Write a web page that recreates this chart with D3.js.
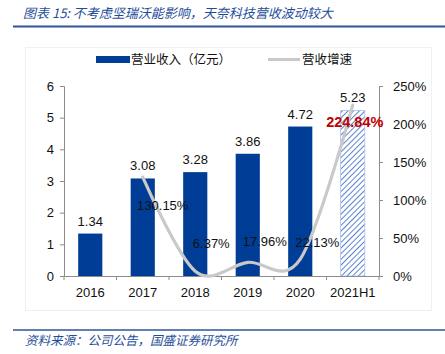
<!DOCTYPE html>
<html>
<head>
<meta charset="utf-8">
<script src="https://cdn.jsdelivr.net/npm/d3@7"></script>
<style>
  body { margin: 0; background: #fff; }
  svg { display: block; }
</style>
</head>
<body>
<svg id="chart" width="445" height="354"></svg>
<script>
// data
const categories = ['2016', '2017', '2018', '2019', '2020', '2021H1'];
const revenue = [1.34, 3.08, 3.28, 3.86, 4.72, 5.23];
const growth = [null, 130.15, 6.37, 17.96, 22.13, 224.84];
const leftTicks = [0, 1, 2, 3, 4, 5, 6];
const rightTicks = [0, 50, 100, 150, 200, 250];

const titleText = '图表 15:  不考虑坚瑞沃能影响，天奈科技营收波动较大';
const sourceText = '资料来源：公司公告，国盛证券研究所';

const svg = d3.select('#chart');
const font = '"Liberation Sans", Arial, sans-serif';
const cjk = '"Noto Sans CJK SC", sans-serif';
const blue = '#003d96';
const gray = '#c9c9c9';

// plot box
const plot = { left: 64, right: 379, top: 86, bottom: 276 };

// title + rules
svg.append('text')
  .attr('x', 23).attr('y', 18)
  .attr('font-family', cjk).attr('font-size', 13)
  .attr('font-style', 'italic')
  .attr('fill', '#1f4e99')
  .text(titleText);
svg.append('line')
  .attr('x1', 13).attr('x2', 445).attr('y1', 26.5).attr('y2', 26.5)
  .attr('stroke', '#2f5597').attr('stroke-width', 2);

svg.append('line')
  .attr('x1', 13).attr('x2', 445).attr('y1', 330).attr('y2', 330)
  .attr('stroke', '#2f5597').attr('stroke-width', 1.5);
svg.append('text')
  .attr('x', 25).attr('y', 345)
  .attr('font-family', cjk).attr('font-size', 12.5)
  .attr('font-style', 'italic')
  .attr('fill', '#1f4e99')
  .text(sourceText);

// faint chart frame
svg.append('rect')
  .attr('x', 25.5).attr('y', 47.5).attr('width', 406).attr('height', 263)
  .attr('fill', 'none').attr('stroke', '#f0f0f0');

// scales
const x = d3.scaleBand()
  .domain(categories)
  .range([plot.left, plot.right])
  .paddingInner(0.54)
  .paddingOuter(0.27);
const yL = d3.scaleLinear().domain([0, 6]).range([plot.bottom, plot.top]);
const yR = d3.scaleLinear().domain([0, 250]).range([plot.bottom, plot.top]);

// hatch pattern for the 2021H1 bar
const defs = svg.append('defs');
const pat = defs.append('pattern')
  .attr('id', 'hatch')
  .attr('patternUnits', 'userSpaceOnUse')
  .attr('width', 4).attr('height', 4)
  .attr('patternTransform', 'rotate(45)');
pat.append('rect').attr('width', 4).attr('height', 4).attr('fill', '#fff');
pat.append('line')
  .attr('x1', 0).attr('y1', 0).attr('x2', 0).attr('y2', 4)
  .attr('stroke', '#2f64c0').attr('stroke-width', 1.6);

// bars
svg.selectAll('.bar')
  .data(revenue)
  .enter()
  .append('rect')
  .attr('class', 'bar')
  .attr('x', (d, i) => x(categories[i]))
  .attr('y', d => yL(d))
  .attr('width', x.bandwidth())
  .attr('height', d => yL(0) - yL(d))
  .attr('fill', (d, i) => i === categories.length - 1 ? 'url(#hatch)' : blue)
  .attr('stroke', (d, i) => i === categories.length - 1 ? '#a9c1e8' : 'none')
  .attr('stroke-width', 0.8);

// bar value labels
svg.selectAll('.bar-label')
  .data(revenue)
  .enter()
  .append('text')
  .attr('class', 'bar-label')
  .attr('x', (d, i) => x(categories[i]) + x.bandwidth() / 2)
  .attr('y', d => yL(d) - 8)
  .attr('text-anchor', 'middle')
  .attr('font-family', font).attr('font-size', 13)
  .attr('fill', '#111')
  .text(d => d.toFixed(2));

// axes
const axisColor = '#8c8c8c';
const gL = svg.append('g')
  .attr('transform', `translate(${plot.left},0)`)
  .call(d3.axisLeft(yL).tickValues(leftTicks).tickSize(4).tickPadding(6).tickFormat(d3.format('d')));
const gR = svg.append('g')
  .attr('transform', `translate(${plot.right},0)`)
  .call(d3.axisRight(yR).tickValues(rightTicks).tickSize(4).tickPadding(10).tickFormat(d => d + '%'));
const gB = svg.append('g')
  .attr('transform', `translate(0,${plot.bottom})`)
  .call(d3.axisBottom(x).tickSize(0).tickPadding(12));

[gL, gR, gB].forEach(g => {
  g.select('.domain').attr('stroke', axisColor);
  g.selectAll('.tick line').attr('stroke', axisColor);
  g.selectAll('.tick text')
    .attr('font-family', font).attr('font-size', 13).attr('fill', '#111');
});

// category boundary ticks on the bottom axis
const step = x.step();
const bounds = categories.map(c => x(c) + x.bandwidth() / 2 - step / 2)
  .concat([x(categories[categories.length - 1]) + x.bandwidth() / 2 + step / 2]);
svg.selectAll('.btick')
  .data(bounds)
  .enter()
  .append('line')
  .attr('x1', d => d).attr('x2', d => d)
  .attr('y1', plot.bottom).attr('y2', plot.bottom + 4)
  .attr('stroke', axisColor);

// growth line (smoothed)
const pts = growth.map((g, i) => ({ c: categories[i], g })).filter(d => d.g !== null);
const line = d3.line()
  .x(d => x(d.c) + x.bandwidth() / 2)
  .y(d => yR(d.g))
  .curve(d3.curveCardinal.tension(0));
svg.append('path')
  .datum(pts)
  .attr('fill', 'none')
  .attr('stroke', gray)
  .attr('stroke-width', 3.2)
  .attr('stroke-linecap', 'round')
  .attr('d', line);

// growth labels (offsets as placed in the picture)
const labelOffsets = [null, [20, 33], [16, -23], [17, -16], [17, -12], [2, 22]];
svg.selectAll('.g-label')
  .data(pts)
  .enter()
  .append('text')
  .attr('class', 'g-label')
  .attr('x', d => x(d.c) + x.bandwidth() / 2 + labelOffsets[categories.indexOf(d.c)][0])
  .attr('y', d => yR(d.g) + labelOffsets[categories.indexOf(d.c)][1])
  .attr('text-anchor', 'middle')
  .attr('font-family', font)
  .attr('font-size', d => d.c === '2021H1' ? 14.5 : 13)
  .attr('font-weight', d => d.c === '2021H1' ? 'bold' : 'normal')
  .attr('fill', d => d.c === '2021H1' ? '#c00000' : '#111')
  .text(d => d.g.toFixed(2) + '%');

// legend
const lg = svg.append('g');
lg.append('rect')
  .attr('x', 96).attr('y', 56).attr('width', 34).attr('height', 7)
  .attr('fill', blue);
lg.append('text')
  .attr('x', 131).attr('y', 64)
  .attr('font-family', cjk).attr('font-size', 12.5).attr('fill', '#111')
  .text('营业收入（亿元）');
lg.append('line')
  .attr('x1', 268).attr('x2', 300).attr('y1', 59.5).attr('y2', 59.5)
  .attr('stroke', gray).attr('stroke-width', 3);
lg.append('text')
  .attr('x', 302).attr('y', 64)
  .attr('font-family', cjk).attr('font-size', 12.5).attr('fill', '#111')
  .text('营收增速');
</script>
</body>
</html>
